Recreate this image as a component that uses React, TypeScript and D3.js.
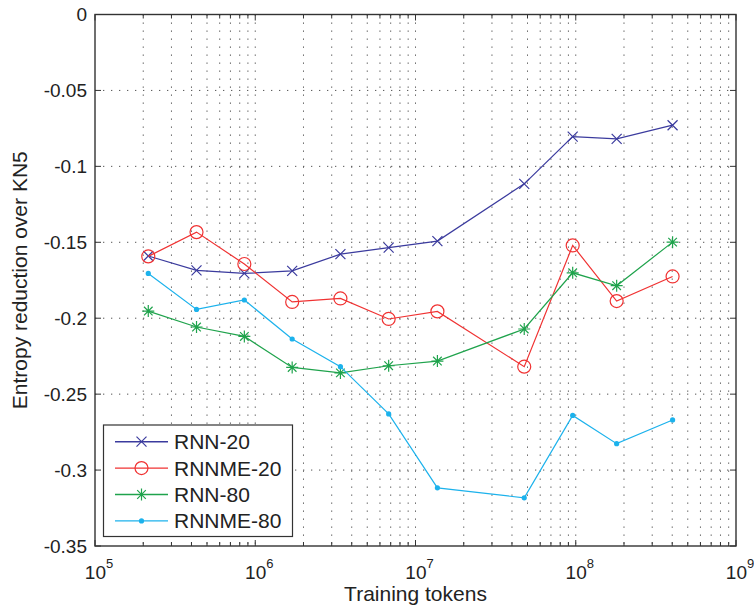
import React, { useEffect, useRef } from 'react';
import * as d3 from 'd3';

// training set sizes (tokens)
const tokens = [2.15e5, 4.3e5, 8.55e5, 1.7e6, 3.4e6, 6.8e6, 1.37e7, 4.77e7, 9.57e7, 1.8e8, 4.02e8];

const rnn20 = [-0.159, -0.1685, -0.1705, -0.1688, -0.1578, -0.1535, -0.1492, -0.1115, -0.0804, -0.0819, -0.0729];
const rnnme20 = [-0.1593, -0.1433, -0.1643, -0.1893, -0.187, -0.2005, -0.1955, -0.2319, -0.1521, -0.1887, -0.1725];
const rnn80 = [-0.1953, -0.2058, -0.212, -0.2324, -0.236, -0.2313, -0.2282, -0.2071, -0.1701, -0.1786, -0.1499];
const rnnme80 = [-0.1705, -0.1942, -0.188, -0.2137, -0.2319, -0.263, -0.3117, -0.3183, -0.264, -0.2826, -0.267];

const seriesNames = ['RNN-20', 'RNNME-20', 'RNN-80', 'RNNME-80'];
const yTicks = [0, -0.05, -0.1, -0.15, -0.2, -0.25, -0.3, -0.35];
const xExponents = [5, 6, 7, 8, 9];

const width = 754;
const height = 608;

type Marker = 'x' | 'o' | '*' | '.';

const App = () => {
    const svgRef = useRef<SVGSVGElement>(null);

    useEffect(() => {
        const svg = d3.select(svgRef.current);
        svg.selectAll('*').remove();

        const left = 95, right = 736, top = 14.5, bottom = 546;
        const font = 'Liberation Sans, Arial, Helvetica, sans-serif';

        const x = d3.scaleLog().domain([1e5, 1e9]).range([left, right]);
        const y = d3.scaleLinear().domain([-0.35, 0]).range([bottom, top]);

        const series = [
            { name: seriesNames[0], values: rnn20, color: '#3b3b9e', marker: 'x' as Marker },
            { name: seriesNames[1], values: rnnme20, color: '#f03232', marker: 'o' as Marker },
            { name: seriesNames[2], values: rnn80, color: '#1fa34c', marker: '*' as Marker },
            { name: seriesNames[3], values: rnnme80, color: '#1cb2ec', marker: '.' as Marker },
        ];

        // minor decade positions
        const minor: number[] = [];
        for (let e = 5; e < 9; e++) {
            for (let k = 2; k <= 9; k++) minor.push(k * Math.pow(10, e));
        }
        const major = xExponents.map(e => Math.pow(10, e));

        // grid
        const grid = svg.append('g');
        grid.selectAll('.vgrid')
            .data(minor.concat(major.slice(1, -1)))
            .enter().append('line')
            .attr('x1', d => x(d)).attr('x2', d => x(d))
            .attr('y1', top).attr('y2', bottom)
            .style('stroke', '#555')
            .style('stroke-width', 1)
            .style('stroke-dasharray', '1.3,6.7');
        grid.selectAll('.hgrid')
            .data(yTicks.slice(1, -1))
            .enter().append('line')
            .attr('x1', left).attr('x2', right)
            .attr('y1', d => y(d)).attr('y2', d => y(d))
            .style('stroke', '#555')
            .style('stroke-width', 1)
            .style('stroke-dasharray', '1.3,6.7');

        // ticks
        const ticks = svg.append('g').style('stroke', '#333').style('stroke-width', 1);
        major.forEach(v => {
            ticks.append('line').attr('x1', x(v)).attr('x2', x(v)).attr('y1', bottom).attr('y2', bottom - 6);
            ticks.append('line').attr('x1', x(v)).attr('x2', x(v)).attr('y1', top).attr('y2', top + 6);
        });
        minor.forEach(v => {
            ticks.append('line').attr('x1', x(v)).attr('x2', x(v)).attr('y1', bottom).attr('y2', bottom - 4);
            ticks.append('line').attr('x1', x(v)).attr('x2', x(v)).attr('y1', top).attr('y2', top + 4);
        });
        yTicks.forEach(v => {
            ticks.append('line').attr('x1', left).attr('x2', left + 6).attr('y1', y(v)).attr('y2', y(v));
            ticks.append('line').attr('x1', right).attr('x2', right - 6).attr('y1', y(v)).attr('y2', y(v));
        });

        // box
        svg.append('rect')
            .attr('x', left).attr('y', top)
            .attr('width', right - left).attr('height', bottom - top)
            .style('fill', 'none')
            .style('stroke', '#333')
            .style('stroke-width', 1.4);

        // y tick labels
        svg.append('g').selectAll('text')
            .data(yTicks)
            .enter().append('text')
            .attr('x', left - 8)
            .attr('y', d => y(d))
            .attr('dy', '0.35em')
            .style('text-anchor', 'end')
            .style('font-family', font)
            .style('font-size', '19px')
            .style('fill', '#222')
            .text(d => d === 0 ? '0' : String(d));

        // x tick labels 10^e
        xExponents.forEach(e => {
            const t = svg.append('text')
                .attr('x', x(Math.pow(10, e)) + 4)
                .attr('y', 579)
                .style('text-anchor', 'middle')
                .style('font-family', font)
                .style('font-size', '19px')
                .style('fill', '#222');
            t.append('tspan').text('10');
            t.append('tspan').attr('dy', -11).style('font-size', '13px').text(String(e));
        });

        // axis labels
        svg.append('text')
            .attr('x', (left + right) / 2)
            .attr('y', 601)
            .style('text-anchor', 'middle')
            .style('font-family', font)
            .style('font-size', '21px')
            .style('fill', '#222')
            .text('Training tokens');

        svg.append('text')
            .attr('transform', `translate(27, ${(top + bottom) / 2}) rotate(-90)`)
            .style('text-anchor', 'middle')
            .style('font-family', font)
            .style('font-size', '21px')
            .style('fill', '#222')
            .text('Entropy reduction over KN5');

        const drawMarker = (g: any, type: Marker, cx: number, cy: number, color: string) => {
            if (type === 'x') {
                const s = 5;
                g.append('path')
                    .attr('d', `M${cx - s},${cy - s}L${cx + s},${cy + s}M${cx - s},${cy + s}L${cx + s},${cy - s}`)
                    .style('stroke', color).style('stroke-width', 1.2);
            } else if (type === 'o') {
                g.append('circle').attr('cx', cx).attr('cy', cy).attr('r', 6.5)
                    .style('fill', 'none').style('stroke', color).style('stroke-width', 1.2);
            } else if (type === '*') {
                const s = 6, d = 4.3;
                g.append('path')
                    .attr('d', `M${cx - s},${cy}L${cx + s},${cy}M${cx},${cy - s}L${cx},${cy + s}M${cx - d},${cy - d}L${cx + d},${cy + d}M${cx - d},${cy + d}L${cx + d},${cy - d}`)
                    .style('stroke', color).style('stroke-width', 1.2);
            } else {
                g.append('circle').attr('cx', cx).attr('cy', cy).attr('r', 2.6).style('fill', color);
            }
        };

        const line = d3.line<number>()
            .x((d, i) => x(tokens[i]))
            .y(d => y(d));

        series.forEach(s => {
            const g = svg.append('g');
            g.append('path')
                .attr('d', line(s.values))
                .style('fill', 'none')
                .style('stroke', s.color)
                .style('stroke-width', 1.2);
            s.values.forEach((v, i) => drawMarker(g, s.marker, x(tokens[i]), y(v), s.color));
        });

        // legend
        const lg = svg.append('g');
        lg.append('rect')
            .attr('x', 103.5).attr('y', 425)
            .attr('width', 189).attr('height', 111.5)
            .style('fill', 'white')
            .style('stroke', '#333')
            .style('stroke-width', 1.2);
        series.forEach((s, i) => {
            const ly = 441.7 + i * 26.4;
            lg.append('line')
                .attr('x1', 115).attr('x2', 168)
                .attr('y1', ly).attr('y2', ly)
                .style('stroke', s.color)
                .style('stroke-width', 1.4);
            drawMarker(lg, s.marker, 141.5, ly, s.color);
            lg.append('text')
                .attr('x', 174)
                .attr('y', ly)
                .attr('dy', '0.36em')
                .style('font-family', font)
                .style('font-size', '21px')
                .style('fill', '#222')
                .text(s.name);
        });
    }, []);

    return (
        <svg ref={svgRef} width={width} height={height}
            style={{ position: 'absolute', left: 0, top: 0, background: 'white' }}></svg>
    );
};

export default App;
